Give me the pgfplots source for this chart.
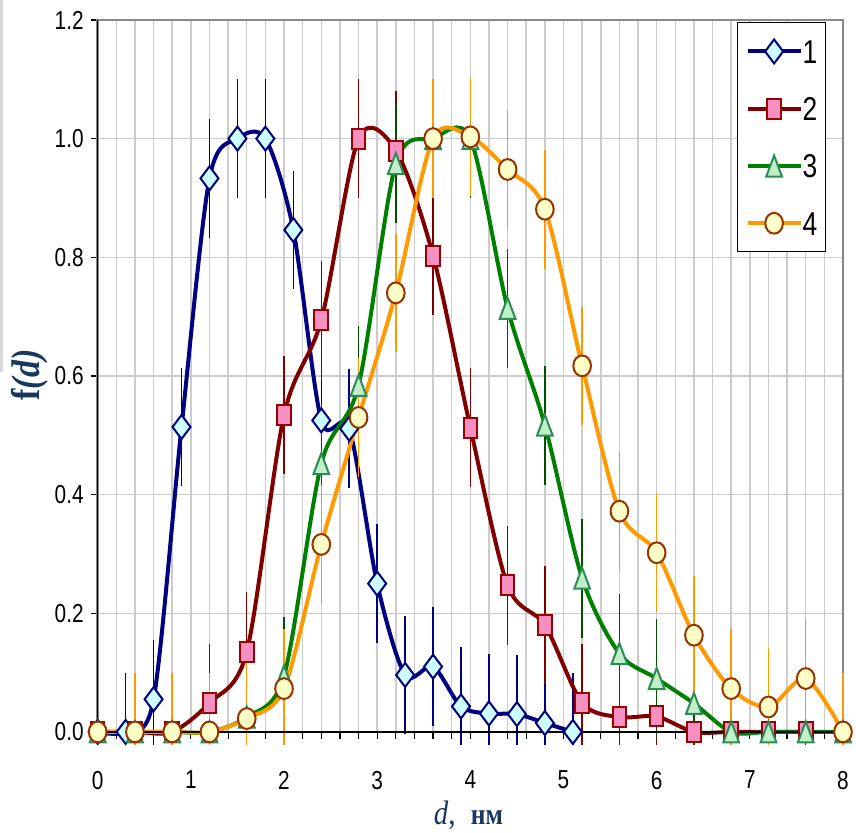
\documentclass[border=0pt]{standalone}
\usepackage{fontspec}
\setmainfont{Liberation Sans}
\newfontfamily\narrowfont{Liberation Sans}[FakeStretch=0.8]
\newfontfamily\seriffont{Liberation Serif}[FakeStretch=0.85]
\usepackage{pgfplots}
\pgfplotsset{compat=1.18}
\usepackage{pgfplotstable}

\definecolor{s1line}{HTML}{000080}
\definecolor{s1fill}{HTML}{CCFFFF}
\definecolor{s2line}{HTML}{800000}
\definecolor{s2fill}{HTML}{F590C0}
\definecolor{s2edge}{HTML}{990000}
\definecolor{s3line}{HTML}{008000}
\definecolor{s3fill}{HTML}{C0F0C8}
\definecolor{s3edge}{HTML}{2E8B57}
\definecolor{s3err}{HTML}{005000}
\definecolor{s4line}{HTML}{FF9900}
\definecolor{s4fill}{HTML}{FFFFC8}
\definecolor{s4edge}{HTML}{993300}
\definecolor{lab}{HTML}{17375E}
\definecolor{gridc}{HTML}{CCCCCC}
\definecolor{boxc}{HTML}{888888}

\pgfplotstableread{
x y ep em
0 0 0.1 0.022
0.3 0 0.1 0.022
0.6 0.055 0.1 0.077
0.9 0.514 0.1 0.1
1.2 0.933 0.1 0.1
1.5 1.0 0.1 0.1
1.8 1.0 0.1 0.1
2.1 0.846 0.1 0.1
2.4 0.525 0.1 0.1
2.7 0.511 0.1 0.1
3.0 0.25 0.1 0.1
3.3 0.096 0.1 0.1
3.6 0.11 0.1 0.1
3.9 0.043 0.1 0.065
4.2 0.031 0.1 0.053
4.5 0.03 0.1 0.052
4.8 0.015 0.1 0.037
5.1 0.0 0.1 0.022
}\dataA

\pgfplotstableread{
x y ep em
0 0 0.1 0.022
0.4 0 0.1 0.022
0.8 0 0.1 0.022
1.2 0.049 0.1 0.071
1.6 0.135 0.1 0.1
2.0 0.534 0.1 0.1
2.4 0.694 0.1 0.1
2.8 1.0 0.1 0.1
3.2 0.98 0.1 0.1
3.6 0.803 0.1 0.1
4.0 0.513 0.1 0.1
4.4 0.247 0.1 0.1
4.8 0.18 0.1 0.1
5.2 0.049 0.1 0.071
5.6 0.025 0.1 0.047
6.0 0.026 0.1 0.048
6.4 0 0.1 0.022
6.8 0 0.1 0.022
7.2 0 0.1 0.022
7.6 0 0.1 0.022
}\dataB

\pgfplotstableread{
x y ep em
0 0 0.1 0.022
0.4 0 0.1 0.022
0.8 0 0.1 0.022
1.2 0 0.1 0.022
1.6 0.025 0.1 0.047
2.0 0.094 0.1 0.1
2.4 0.452 0.1 0.1
2.8 0.584 0.1 0.1
3.2 0.958 0.1 0.1
3.6 1.0 0.1 0.1
4.0 1.0 0.1 0.1
4.4 0.714 0.1 0.1
4.8 0.517 0.1 0.1
5.2 0.259 0.1 0.1
5.6 0.132 0.1 0.1
6.0 0.09 0.1 0.1
6.4 0.048 0.1 0.07
6.8 0 0.1 0.022
7.2 0 0.1 0.022
7.6 0 0.1 0.022
8.0 0 0.1 0.022
}\dataC

\pgfplotstableread{
x y ep em
0 0 0.1 0.022
0.4 0 0.1 0.022
0.8 0 0.1 0.022
1.2 0 0.1 0.022
1.6 0.0225 0.1 0.0445
2.0 0.073 0.1 0.095
2.4 0.316 0.1 0.1
2.8 0.53 0.1 0.1
3.2 0.74 0.1 0.1
3.6 1.0 0.1 0.1
4.0 1.003 0.1 0.1
4.4 0.948 0.1 0.1
4.8 0.881 0.1 0.1
5.2 0.617 0.1 0.1
5.6 0.372 0.1 0.1
6.0 0.302 0.1 0.1
6.4 0.163 0.1 0.1
6.8 0.073 0.1 0.095
7.2 0.042 0.1 0.064
7.6 0.09 0.1 0.1
8.0 0 0.1 0.022
}\dataD

\begin{document}
\begin{tikzpicture}
\begin{axis}[
  scale only axis, width=372.7pt, height=356pt,
  xmin=0, xmax=8, ymin=0, ymax=1.2,
  xtick={0,1,2,3,4,5,6,7,8}, minor x tick num=4,
  ytick={0,0.2,0.4,0.6,0.8,1.0,1.2},
  grid=both,
  major grid style={draw=gridc, line width=0.75pt},
  minor grid style={draw=gridc, line width=0.75pt},
  tick align=outside, tick pos=left,
  major tick length=3.5pt, minor tick length=3.5pt,
  tick style={black, line width=0.6pt},
  axis line style={draw=boxc, line width=1.2pt},
  clip=false,
  /pgf/number format/assume math mode=true,
  ticklabel style={font=\narrowfont\fontsize{13}{14}\selectfont, text=black},
  xticklabel style={yshift=-12.5pt},
  yticklabel style={/pgf/number format/.cd, fixed, fixed zerofill, precision=1},
  legend style={at={(1,1)}, anchor=north east, xshift=-8.55pt, yshift=-1.15pt,
    draw=black, line width=0.6pt, fill=white,
    font=\narrowfont\fontsize{16.5}{16.5}\selectfont,
    inner xsep=4pt, inner ysep=8.3pt, row sep=16.8pt,
    nodes={inner sep=0pt, text height=11.8pt, text depth=0pt},
    /tikz/every even column/.append style={column sep=2.5pt}},
  legend cell align=left,
  legend image code/.code={\draw[mark repeat=2,mark phase=2,#1] plot coordinates {(0pt,0pt) (13.25pt,0pt) (26.5pt,0pt)};},
]
\addplot[s1line, line width=2pt, smooth, mark=diamond*, mark size=6pt,
  mark options={fill=s1fill, draw=s1line, line width=1pt},
  error bars/.cd, y dir=both, y explicit, error mark=none,
  error bar style={s1line, line width=0.75pt}]
  table[x=x, y=y, y error plus=ep, y error minus=em] {\dataA};
\addlegendentry{1}
\addplot[s2line, line width=2pt, smooth, mark=square*, mark size=5pt,
  mark options={xscale=0.68, fill=s2fill, draw=s2edge, line width=1pt},
  error bars/.cd, y dir=both, y explicit, error mark=none,
  error bar style={s2line, line width=0.75pt}]
  table[x=x, y=y, y error plus=ep, y error minus=em] {\dataB};
\addlegendentry{2}
\addplot[s3line, line width=2pt, smooth, mark=triangle*, mark size=7pt,
  mark options={xscale=0.65, yshift=-1.75pt, fill=s3fill, draw=s3edge, line width=1pt},
  error bars/.cd, y dir=both, y explicit, error mark=none,
  error bar style={s3err, line width=0.75pt}]
  table[x=x, y=y, y error plus=ep, y error minus=em] {\dataC};
\addlegendentry{3}
\addplot[s4line, line width=2pt, smooth, mark=*, mark size=5.2pt,
  mark options={xscale=0.85, fill=s4fill, draw=s4edge, line width=1pt},
  error bars/.cd, y dir=both, y explicit, error mark=none,
  error bar style={s4line, line width=0.75pt}]
  table[x=x, y=y, y error plus=ep, y error minus=em] {\dataD};
\addlegendentry{4}
\draw[black, line width=0.8pt] (rel axis cs:0,1) -- (rel axis cs:0,0) -- (rel axis cs:1,0);
\end{axis}
\fill[gray!30] (-48.85pt,366pt) rectangle (-47.35pt,180pt);
\node[rotate=90, text=lab, font=\seriffont\bfseries\fontsize{20}{20}\selectfont] at (-33.85pt,178.5pt) {f\textit{(d)}};
\node[text=lab] at (185.4pt,-41.5pt) {\seriffont\fontsize{17}{17}\selectfont\textit{d},\hspace{0.45em}\fontsize{15}{15}\selectfont\textbf{нм}};
\pgfresetboundingbox
\path (-48.85pt,-50.5pt) rectangle (379.2pt,366pt);
\end{tikzpicture}
\end{document}
